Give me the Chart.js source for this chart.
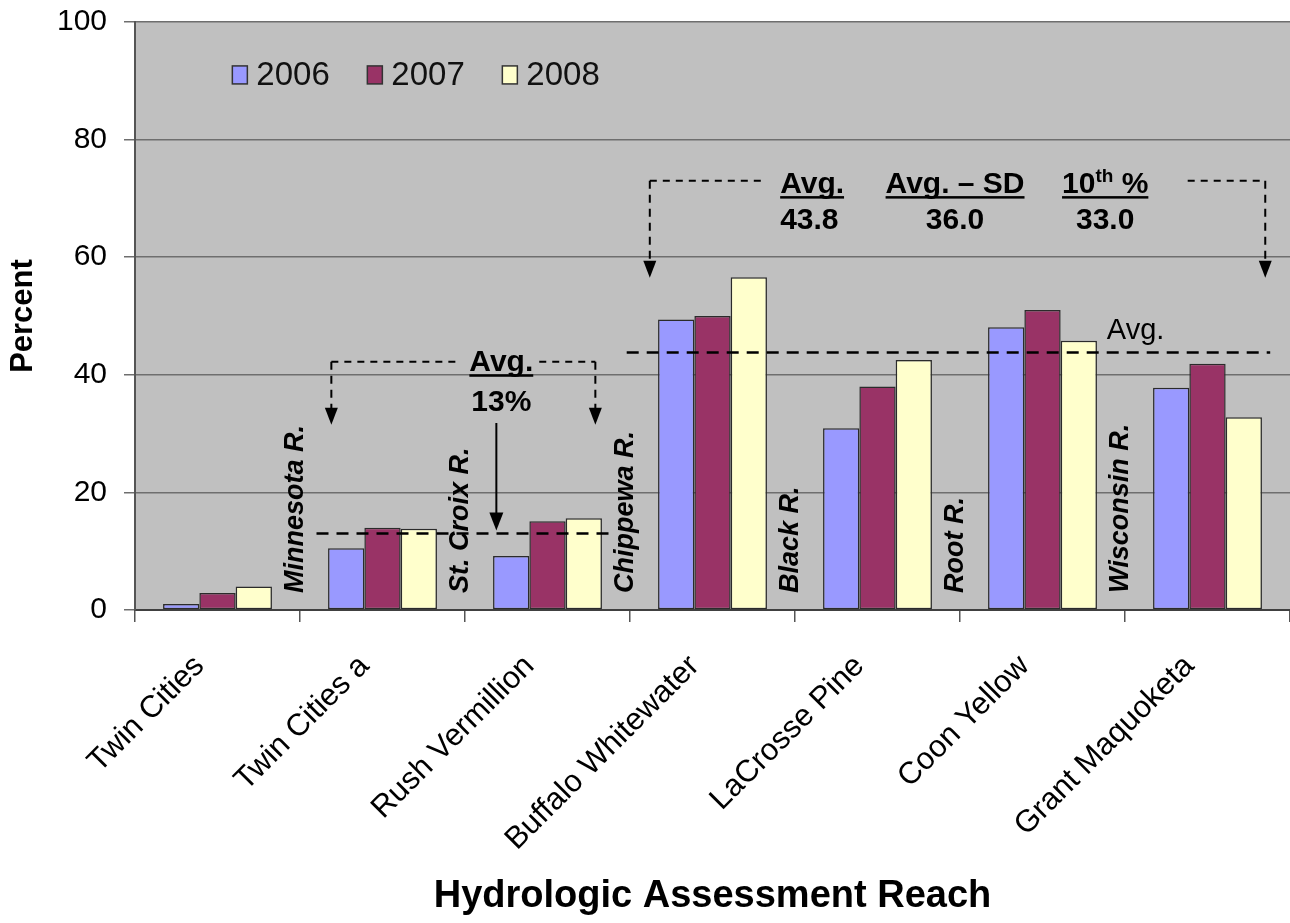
<!DOCTYPE html>
<html>
<head>
<meta charset="utf-8">
<script src="https://cdn.jsdelivr.net/npm/chart.js@4.4.1/dist/chart.umd.min.js"></script>
<style>
  html, body { margin: 0; padding: 0; background: #ffffff; }
  #wrap { width: 1290px; height: 923px; position: relative; }
</style>
</head>
<body>
<div id="wrap"><canvas id="chart"></canvas></div>
<script>
// Reaches along the river, in downstream order
const categories = ['Twin Cities', 'Twin Cities a', 'Rush Vermillion', 'Buffalo Whitewater',
                    'LaCrosse Pine', 'Coon Yellow', 'Grant Maquoketa'];
const seriesNames = ['2006', '2007', '2008'];
const values2006 = [1.0, 10.5, 9.2, 49.4, 30.9, 48.1, 37.8];
const values2007 = [2.9, 14.0, 15.1, 50.0, 38.0, 51.0, 41.9];
const values2008 = [4.0, 13.8, 15.6, 56.6, 42.5, 45.8, 32.8];
const seriesColors = ['#9999FF', '#993366', '#FFFFCC'];
const yTicks = [0, 20, 40, 60, 80, 100];

// Tributaries entering between reaches
const riverNames = ['Minnesota R.', 'St. Croix R.', 'Chippewa R.', 'Black R.', 'Root R.', 'Wisconsin R.'];

// Summary statistics
const upperAverage = 13;        // upstream reaches, percent
const lowerAverage = 43.8;      // downstream reaches
const lowerAvgMinusSD = 36.0;
const lowerTenthPct = 33.0;

const FONT = "'Liberation Sans', Arial, Helvetica, sans-serif";

const plotBackground = {
  id: 'plotBackground',
  beforeDraw(chart) {
    const { ctx, chartArea: a } = chart;
    ctx.save();
    ctx.fillStyle = '#C0C0C0';
    ctx.fillRect(a.left, a.top, a.right - a.left, a.bottom - a.top);
    ctx.restore();
  }
};

// Legend drawn inside the plot area, upper left
const insideLegend = {
  id: 'insideLegend',
  afterDraw(chart) {
    const { ctx } = chart;
    const xs = chart.scales.x, ys = chart.scales.y;
    const yMid = ys.getPixelForValue(91);
    let x = xs.getPixelForValue(0.09);
    ctx.save();
    ctx.font = '33px ' + FONT;
    ctx.textBaseline = 'middle';
    ctx.textAlign = 'left';
    chart.data.datasets.forEach((ds) => {
      ctx.fillStyle = ds.backgroundColor;
      ctx.fillRect(x, yMid - 9, 15, 18);
      ctx.strokeStyle = '#333333';
      ctx.lineWidth = 1.5;
      ctx.strokeRect(x, yMid - 9, 15, 18);
      ctx.fillStyle = '#111111';
      ctx.fillText(ds.label, x + 24, yMid + 1);
      x += 135;
    });
    ctx.restore();
  }
};

function dashedLine(ctx, x1, y1, x2, y2, dash, width) {
  ctx.save();
  ctx.setLineDash(dash);
  ctx.lineWidth = width;
  ctx.strokeStyle = '#000000';
  ctx.beginPath();
  ctx.moveTo(x1, y1);
  ctx.lineTo(x2, y2);
  ctx.stroke();
  ctx.restore();
}

function arrowHead(ctx, x, yTip, w, h) {
  ctx.save();
  ctx.fillStyle = '#000000';
  ctx.beginPath();
  ctx.moveTo(x, yTip);
  ctx.lineTo(x - w / 2, yTip - h);
  ctx.lineTo(x + w / 2, yTip - h);
  ctx.closePath();
  ctx.fill();
  ctx.restore();
}

function underlinedText(ctx, text, x, y, align) {
  ctx.textAlign = align;
  ctx.fillText(text, x, y);
  const w = ctx.measureText(text).width;
  const x0 = align === 'center' ? x - w / 2 : x;
  ctx.fillRect(x0, y + 3, w, 2.5);
}

const annotations = {
  id: 'annotations',
  afterDatasetsDraw(chart) {
    const { ctx } = chart;
    const X = v => chart.scales.x.getPixelForValue(v);
    const Y = v => chart.scales.y.getPixelForValue(v);
    const bold = 'bold 30px ' + FONT;
    ctx.save();
    ctx.fillStyle = '#000000';

    // Upstream average line and bracket
    const yUp = Y(upperAverage);
    dashedLine(ctx, X(0.6), yUp, X(2.4), yUp, [12, 8], 2.5);
    const bTop = Y(42.2), bTip = Y(31.5);
    dashedLine(ctx, X(0.69), bTop, X(1.47), bTop, [7, 6], 2);
    dashedLine(ctx, X(1.95), bTop, X(2.29), bTop, [7, 6], 2);
    dashedLine(ctx, X(0.69), bTop, X(0.69), bTip - 14, [8, 6], 2);
    dashedLine(ctx, X(2.29), bTop, X(2.29), bTip - 14, [8, 6], 2);
    arrowHead(ctx, X(0.69), bTip, 13, 17);
    arrowHead(ctx, X(2.29), bTip, 13, 17);
    ctx.font = bold;
    ctx.textBaseline = 'alphabetic';
    underlinedText(ctx, 'Avg.', X(1.72), Y(40.6), 'center');
    ctx.textAlign = 'center';
    ctx.fillText(upperAverage + '%', X(1.72), Y(33.8));
    // solid pointer down to the line
    ctx.lineWidth = 2;
    ctx.strokeStyle = '#000000';
    ctx.beginPath();
    ctx.moveTo(X(1.69), Y(31.8));
    ctx.lineTo(X(1.69), yUp - 18);
    ctx.stroke();
    arrowHead(ctx, X(1.69), yUp - 3, 14, 18);

    // Downstream average line
    const yLow = Y(lowerAverage);
    dashedLine(ctx, X(2.48), yLow, X(6.38), yLow, [12, 8], 2.5);
    ctx.font = '29px ' + FONT;
    ctx.textAlign = 'left';
    ctx.fillText('Avg.', X(5.39), yLow - 13);

    // Downstream bracket with statistics
    const cTop = Y(73), cTip = Y(56.5);
    dashedLine(ctx, X(2.62), cTop, X(3.3), cTop, [7, 6], 2);
    dashedLine(ctx, X(5.88), cTop, X(6.35), cTop, [7, 6], 2);
    dashedLine(ctx, X(2.62), cTop, X(2.62), cTip - 14, [8, 6], 2);
    dashedLine(ctx, X(6.35), cTop, X(6.35), cTip - 14, [8, 6], 2);
    arrowHead(ctx, X(2.62), cTip, 13, 17);
    arrowHead(ctx, X(6.35), cTip, 13, 17);

    ctx.font = bold;
    const hY = Y(70.9), nY = Y(64.8);
    underlinedText(ctx, 'Avg.', X(3.41), hY, 'left');
    ctx.textAlign = 'left';
    ctx.fillText(lowerAverage.toFixed(1), X(3.41), nY);

    underlinedText(ctx, 'Avg. \u2013 SD', X(4.47), hY, 'center');
    ctx.textAlign = 'center';
    ctx.fillText(lowerAvgMinusSD.toFixed(1), X(4.47), nY);

    // "10th %" with superscript
    const cx = X(5.38);
    ctx.font = bold;
    const w10 = ctx.measureText('10').width;
    ctx.font = 'bold 19px ' + FONT;
    const wth = ctx.measureText('th').width;
    ctx.font = bold;
    const wpc = ctx.measureText(' %').width;
    const total = w10 + wth + wpc;
    let x0 = cx - total / 2;
    ctx.textAlign = 'left';
    ctx.fillText('10', x0, hY);
    ctx.font = 'bold 19px ' + FONT;
    ctx.fillText('th', x0 + w10, hY - 11);
    ctx.font = bold;
    ctx.fillText(' %', x0 + w10 + wth, hY);
    ctx.fillRect(x0, hY + 3, total, 2.5);
    ctx.textAlign = 'center';
    ctx.fillText(lowerTenthPct.toFixed(1), cx, nY);

    // Tributary names at reach boundaries
    ctx.font = 'italic bold 27px ' + FONT;
    ctx.textAlign = 'left';
    ctx.textBaseline = 'middle';
    const yBase = Y(2.9);
    riverNames.forEach((name, i) => {
      ctx.save();
      ctx.translate(X(i + 0.475), yBase);
      ctx.rotate(-Math.PI / 2);
      ctx.fillText(name, 0, 0);
      ctx.restore();
    });
    ctx.restore();
  }
};

const makeSet = (label, data, color) => ({
  label, data,
  backgroundColor: color,
  borderColor: '#2b2b2b',
  borderWidth: 1.5,
  borderSkipped: false,
  barPercentage: 1.0,
  categoryPercentage: 0.66
});

new Chart(document.getElementById('chart'), {
  type: 'bar',
  data: {
    labels: categories,
    datasets: [
      makeSet(seriesNames[0], values2006, seriesColors[0]),
      makeSet(seriesNames[1], values2007, seriesColors[1]),
      makeSet(seriesNames[2], values2008, seriesColors[2])
    ]
  },
  options: {
    responsive: true,
    maintainAspectRatio: false,
    animation: false,
    layout: { padding: { top: 22, right: 0, left: 0, bottom: 0 } },
    plugins: {
      legend: { display: false },
      tooltip: { enabled: false }
    },
    scales: {
      x: {
        grid: {
          display: true, drawOnChartArea: false, drawTicks: true,
          tickLength: 12, color: '#555555', lineWidth: 1.5, offset: true
        },
        border: { display: true, color: '#404040', width: 2 },
        ticks: {
          autoSkip: false, maxRotation: 45, minRotation: 45, padding: 26,
          labelOffset: -18,
          color: '#000000', font: { family: FONT, size: 31 }
        },
        title: {
          display: true, text: 'Hydrologic Assessment Reach', color: '#000000',
          font: { family: FONT, size: 38, weight: 'bold' }, padding: { top: 0, bottom: 4 }
        },
        afterFit(scale) {
          scale.height = 313;
          scale.paddingLeft = 0; scale.paddingRight = 0;
        }
      },
      y: {
        min: 0, max: 100,
        afterBuildTicks(scale) { scale.ticks = yTicks.map(v => ({ value: v })); },
        grid: { color: '#6e6e6e', lineWidth: 1.5, tickLength: 11, drawTicks: true },
        border: { display: true, color: '#555555', width: 2 },
        ticks: {
          padding: 17, color: '#000000',
          font: { family: FONT, size: 30 }
        },
        title: {
          display: true, text: 'Percent', color: '#000000',
          font: { family: FONT, size: 31, weight: 'bold' }, padding: { top: 5, bottom: 0 }
        },
        afterFit(scale) {
          scale.width = 135;
          scale.paddingTop = 0; scale.paddingBottom = 0;
        }
      }
    }
  },
  plugins: [plotBackground, annotations, insideLegend]
});
</script>
</body>
</html>
